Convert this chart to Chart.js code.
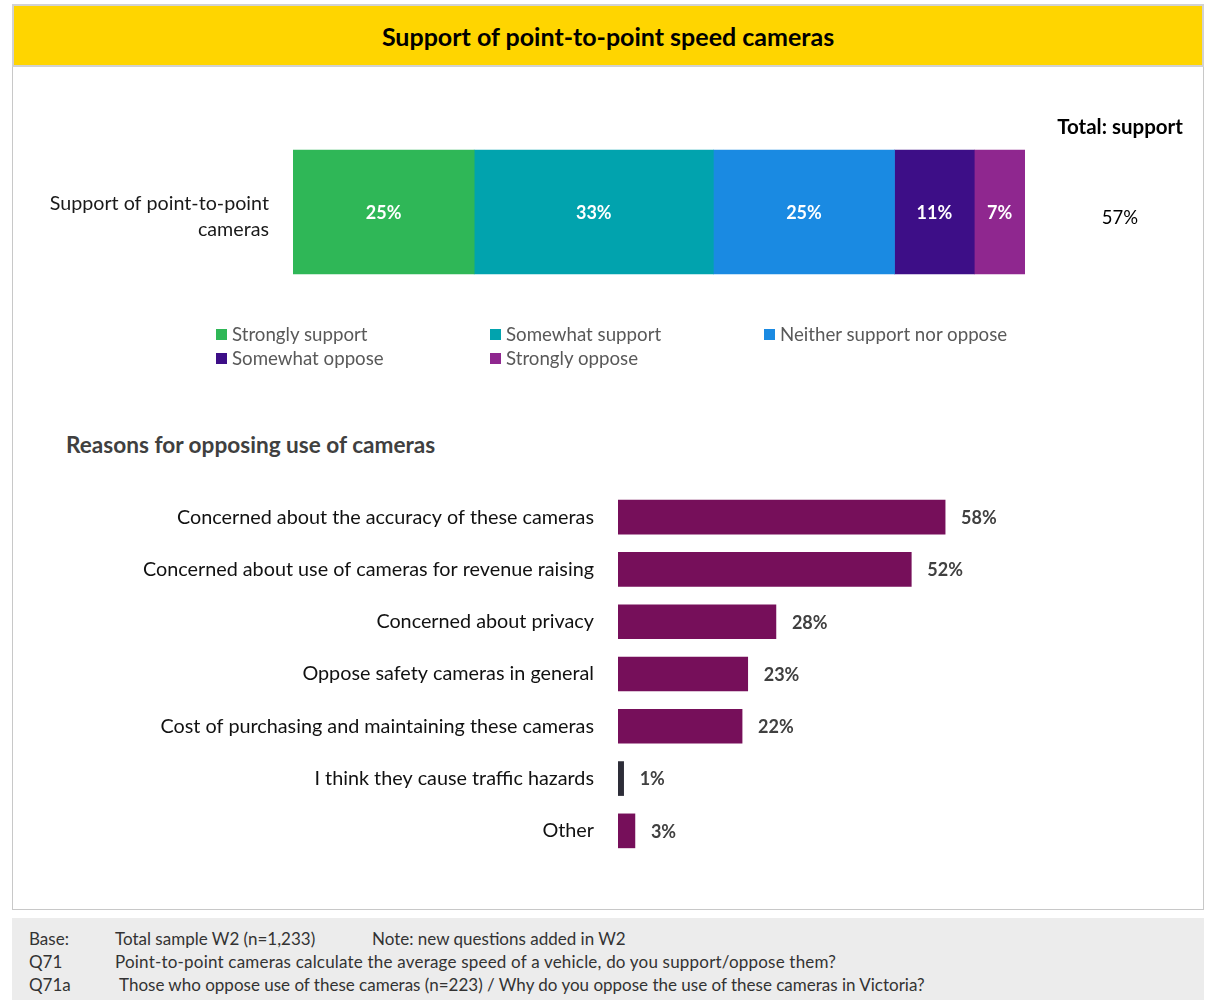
<!DOCTYPE html>
<html>
<head>
<meta charset="utf-8">
<script src="https://cdn.jsdelivr.net/npm/chart.js@4.4.1/dist/chart.umd.min.js"></script>
<style>
  body { margin: 0; width: 1206px; height: 1000px; background: #fff; font-family: Lato, "Open Sans", sans-serif; position: relative; overflow: hidden; }
  .title { position: absolute; left: 12px; top: 4px; width: 1188px; height: 59px; background: #ffd500; border: 2px solid #d2d2d2; text-align: center; line-height: 61px; font-weight: bold; font-size: 25px; color: #000; }
  .panel { position: absolute; left: 12px; top: 67px; width: 1190px; height: 842px; border: 1px solid #c8c8c8; border-top: none; }
  .wrap { position: absolute; }
  .legend { position: absolute; left: 216px; top: 323px; display: grid; grid-template-columns: 274px 274px 274px; row-gap: 2px; font-size: 18.7px; color: #595959; }
  .legend div { display: flex; align-items: center; height: 22px; }
  .legend span.box { display: inline-block; width: 11px; height: 11px; margin-right: 5px; }
  .subtitle { position: absolute; left: 66px; top: 431px; font-size: 22.6px; font-weight: bold; color: #404040; }
  .footer { position: absolute; left: 12px; top: 918px; width: 1192px; height: 82px; background: #ececec; font-size: 17px; color: #333; }
  .footer div { position: absolute; white-space: nowrap; }
</style>
</head>
<body>
<div class="title">Support of point-to-point speed cameras</div>
<div class="panel"></div>
<div class="wrap" style="left:13px; top:100px; width:1190px; height:224px;"><canvas id="supportChart"></canvas></div>
<div class="legend" id="legend"></div>
<div class="subtitle">Reasons for opposing use of cameras</div>
<div class="wrap" style="left:13px; top:491px; width:1190px; height:366px;"><canvas id="reasonsChart"></canvas></div>
<div class="footer">
  <div style="left:17px; top:10px;">Base:</div>
  <div style="left:103px; top:10px;">Total sample W2 (n=1,233)</div>
  <div style="left:360px; top:10px;">Note: new questions added in W2</div>
  <div style="left:17px; top:33px;">Q71</div>
  <div style="left:103px; top:33px; letter-spacing:0.2px;">Point-to-point cameras calculate the average speed of a vehicle, do you support/oppose them?</div>
  <div style="left:17px; top:56px;">Q71a</div>
  <div style="left:107px; top:56px;">Those who oppose use of these cameras (n=223) / Why do you oppose the use of these cameras in Victoria?</div>
</div>

<script>
// support question
const supportCategory = ['Support of point-to-point', 'cameras'];
const supportLabels = ['Strongly support', 'Somewhat support', 'Neither support nor oppose', 'Somewhat oppose', 'Strongly oppose'];
const supportValues = [25, 33, 25, 11, 7];
const totalSupport = 57;

// reasons for opposing
const reasonLabels = [
  'Concerned about the accuracy of these cameras',
  'Concerned about use of cameras for revenue raising',
  'Concerned about privacy',
  'Oppose safety cameras in general',
  'Cost of purchasing and maintaining these cameras',
  'I think they cause traffic hazards',
  'Other'
];
const reasonValues = [58, 52, 28, 23, 22, 1, 3];

const supportColors = ['#2fb757', '#01a3ae', '#1a8ae2', '#3d0e87', '#8f278f'];
const reasonColors = ['#760f5a', '#760f5a', '#760f5a', '#760f5a', '#760f5a', '#2d2d38', '#760f5a'];
const FONT = 'Lato, "Open Sans", sans-serif';

Chart.defaults.font.family = FONT;
Chart.defaults.animation = false;

// fixed axis width, and no extra vertical padding from the tick labels
function fixAxis(width) {
  return function (scale) {
    scale.width = width;
    scale.paddingTop = 0;
    scale.paddingBottom = 0;
  };
}

// white % labels in the middle of each stacked segment, plus the total column
const stackLabels = {
  id: 'stackLabels',
  afterDatasetsDraw(chart) {
    const ctx = chart.ctx;
    ctx.save();
    ctx.font = 'bold 18px ' + FONT;
    ctx.fillStyle = '#fff';
    ctx.textAlign = 'center';
    ctx.textBaseline = 'middle';
    chart.data.datasets.forEach((ds, i) => {
      const bar = chart.getDatasetMeta(i).data[0];
      ctx.fillText(ds.data[0] + '%', (bar.base + bar.x) / 2, bar.y + 1);
    });
    const cx = 1107;
    ctx.fillStyle = '#000';
    ctx.font = 'bold 20.5px ' + FONT;
    ctx.fillText('Total: support', cx, 27);
    ctx.font = '18.5px ' + FONT;
    ctx.fillText(totalSupport + '%', cx, 118);
    ctx.restore();
  }
};

new Chart(document.getElementById('supportChart'), {
  type: 'bar',
  data: {
    labels: [supportCategory],
    datasets: supportLabels.map((label, i) => ({
      label: label,
      data: [supportValues[i]],
      backgroundColor: supportColors[i],
      barThickness: 124
    }))
  },
  options: {
    indexAxis: 'y',
    responsive: true,
    maintainAspectRatio: false,
    layout: { padding: { left: 0, right: 178, top: 0, bottom: 0 } },
    plugins: { legend: { display: false }, tooltip: { enabled: false } },
    scales: {
      x: { stacked: true, display: false, min: 0, max: supportValues.reduce((a, b) => a + b, 0) },
      y: {
        stacked: true,
        grid: { display: false, drawTicks: false },
        border: { display: false },
        ticks: { color: '#1a1a1a', font: { size: 19.7, lineHeight: 1.32 }, padding: 24, labelOffset: 5 },
        afterFit: fixAxis(280)
      }
    }
  },
  plugins: [stackLabels]
});

// legend in three columns
const legendEl = document.getElementById('legend');
supportLabels.forEach((label, i) => {
  const item = document.createElement('div');
  item.innerHTML = '<span class="box" style="background:' + supportColors[i] + '"></span>' + label;
  legendEl.appendChild(item);
});

// value labels to the right of each reason bar
const endLabels = {
  id: 'endLabels',
  afterDatasetsDraw(chart) {
    const ctx = chart.ctx;
    ctx.save();
    ctx.font = 'bold 18px ' + FONT;
    ctx.fillStyle = '#404040';
    ctx.textAlign = 'left';
    ctx.textBaseline = 'middle';
    chart.getDatasetMeta(0).data.forEach((bar, i) => {
      ctx.fillText(reasonValues[i] + '%', bar.x + 16, bar.y + 1);
    });
    ctx.restore();
  }
};

new Chart(document.getElementById('reasonsChart'), {
  type: 'bar',
  data: {
    labels: reasonLabels,
    datasets: [{
      data: reasonValues,
      backgroundColor: reasonColors,
      barThickness: 34
    }]
  },
  options: {
    indexAxis: 'y',
    responsive: true,
    maintainAspectRatio: false,
    layout: { padding: { left: 0, right: 21, top: 0, bottom: 0 } },
    plugins: { legend: { display: false }, tooltip: { enabled: false } },
    scales: {
      x: { display: false, min: 0, max: 100 },
      y: {
        grid: { display: false, drawTicks: false },
        border: { display: false },
        ticks: { color: '#111', font: { size: 19.8 }, padding: 24 },
        afterFit: fixAxis(605)
      }
    }
  },
  plugins: [endLabels]
});
</script>
</body>
</html>
